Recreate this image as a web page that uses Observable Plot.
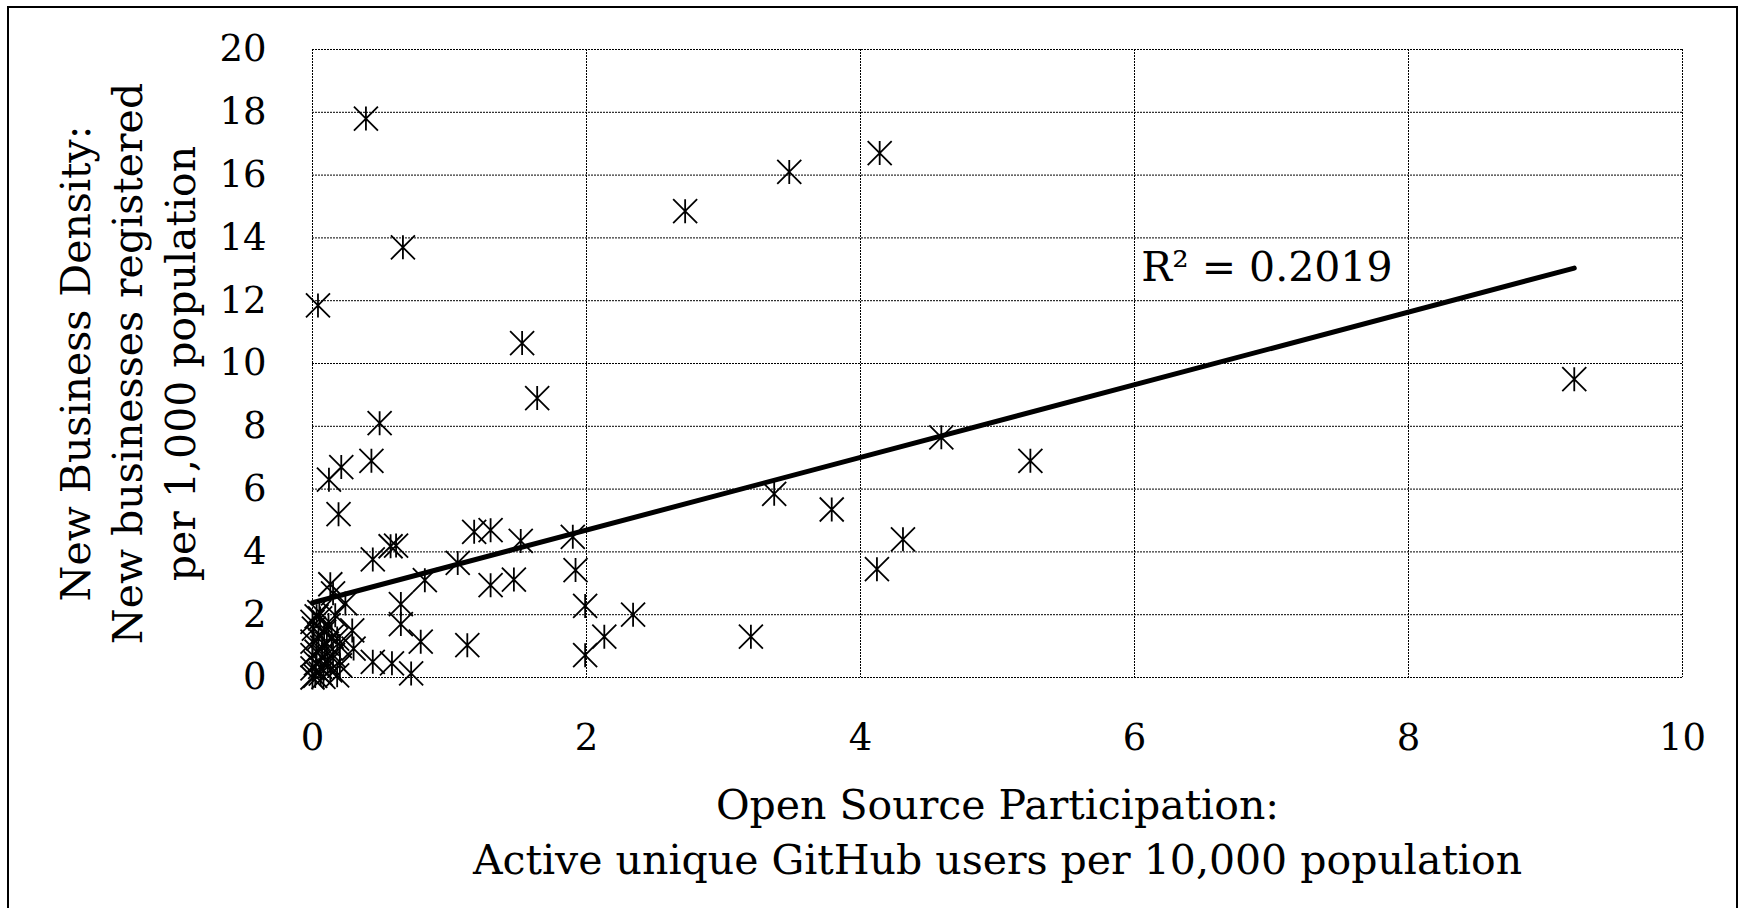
<!DOCTYPE html>
<html>
<head>
<meta charset="utf-8">
<script src="https://cdn.jsdelivr.net/npm/d3@7"></script>
<script src="https://cdn.jsdelivr.net/npm/@observablehq/plot@0.6"></script>
<style>
  html, body { margin: 0; padding: 0; background: #fff; overflow: hidden; }
  #chart { position: absolute; left: 0; top: 0; }
  #frame { position: absolute; left: 7px; top: 6px; width: 1727px; height: 920px; border: 2px solid #000; pointer-events: none; }
</style>
</head>
<body>
<div id="chart"></div>
<div id="frame"></div>
<script>
// Open Source Participation: active unique GitHub users per 10,000 population
const gitHubUsers = [
  0.39, 0.04, 0.66, 2.72, 3.48, 4.14, 1.53, 1.64, 9.21, 0.49,
  0.43, 0.12, 0.21, 0.19, 4.59, 5.24, 3.37, 3.79, 4.31, 4.12,
  3.20, 2.34, 2.13, 1.99, 1.99, 1.92, 1.90, 1.52, 1.47, 1.30,
  1.30, 1.18, 1.06, 1.13, 0.82, 0.79, 0.72, 0.58, 0.44, 0.57,
  0.61, 0.44, 0.645, 0.645, 0.13, 0.24, 0.15, 0.29, 0.30,
  0.00, 0.01, 0.056, 0.117, 0.00, 0.044, 0.105, 0.18, 0.00, 0.03,
  0.09, 0.15, 0.20, 0.00, 0.056, 0.13, 0.00, 0.02, 0.08, 0.18,
  0.166, 0.05, 0.085, 0.025, 0.11, 0.07, 0.14, 0.03, 0.20, 0.06
];
// New Business Density: new businesses registered per 1,000 population
const newBusinessDensity = [
  17.8, 11.85, 13.7, 14.85, 16.1, 16.7, 10.65, 8.9, 9.5, 8.1,
  6.9, 6.3, 6.7, 5.2, 7.65, 6.9, 5.85, 5.35, 4.4, 3.45,
  1.3, 2.0, 1.3, 2.28, 0.71, 3.42, 4.48, 4.35, 3.12, 2.94,
  4.69, 4.64, 3.65, 1.03, 3.1, 1.14, 0.13, 0.45, 0.5, 4.18,
  4.2, 3.76, 2.34, 1.7, 2.97, 2.36, 2.68, 1.5, 0.92,
  1.77, 1.56, 1.88, 1.67, 1.14, 1.24, 1.08, 1.24, 0.71, 0.82,
  0.66, 0.71, 0.39, 0.29, 0.34, 0.23, 0.00, 0.05, 0.02, 0.07,
  1.98, 2.08, 1.45, 0.45, 0.45, 0.95, 1.30, 1.95, 1.00, 0.12
];
const xTicks = [0, 2, 4, 6, 8, 10];
const yTicks = [0, 2, 4, 6, 8, 10, 12, 14, 16, 18, 20];
const xTitle = "Open Source Participation:\nActive unique GitHub users per 10,000 population";
const yTitle = "New Business Density:\nNew businesses registered\nper 1,000 population";
const rSquaredLabel = "R² = 0.2019";
const rSquaredPosition = [6.05, 13.05];

const points = gitHubUsers.map((x, i) => ({x, y: newBusinessDensity[i]}));

// Excel-style "star" marker: an X crossed by a vertical bar
const starSymbol = {
  draw(ctx, size) {
    const r = Math.sqrt(size / Math.PI);
    ctx.moveTo(-r, -r); ctx.lineTo(r, r);
    ctx.moveTo(-r, r); ctx.lineTo(r, -r);
    ctx.moveTo(0, -r); ctx.lineTo(0, r);
  }
};

const FONT = "DejaVu Serif";

const chart = Plot.plot({
  width: 1741,
  height: 908,
  marginLeft: 312,
  marginRight: 59,
  marginTop: 49,
  marginBottom: 231,
  style: {fontFamily: FONT, fontSize: "37px", color: "black", background: "white"},
  x: {domain: [0, 10], ticks: xTicks},
  y: {domain: [0, 20], ticks: yTicks},
  marks: [
    Plot.ruleX(xTicks, {stroke: "black", strokeWidth: 1, strokeDasharray: "2,1"}),
    Plot.ruleY(yTicks, {stroke: "black", strokeWidth: 1, strokeDasharray: "2,1"}),
    Plot.axisX({ticks: xTicks, tickSize: 0, tickPadding: 46, label: null, fill: "black"}),
    Plot.axisY({ticks: yTicks, tickSize: 0, tickPadding: 46, label: null, fill: "black"}),
    Plot.dot(points, {x: "x", y: "y", symbol: starSymbol, r: 12, fill: "none", stroke: "black", strokeWidth: 1.8}),
    Plot.linearRegressionY(points, {x: "x", y: "y", stroke: "black", strokeWidth: 5, ci: 0}),
    Plot.text([rSquaredLabel], {x: () => rSquaredPosition[0], y: () => rSquaredPosition[1], text: d => d, textAnchor: "start", lineAnchor: "middle", fontSize: 41, fontFamily: FONT, fill: "black"}),
    Plot.text([xTitle], {frameAnchor: "bottom", text: d => d, textAnchor: "middle", lineAnchor: "middle", lineHeight: 1.34, dy: 151, fontSize: 41, fontFamily: FONT, fill: "black"}),
    Plot.text([yTitle], {frameAnchor: "left", text: d => d, rotate: -90, textAnchor: "middle", lineAnchor: "middle", lineHeight: 1.29, dx: -187, fontSize: 41, fontFamily: FONT, fill: "black"})
  ]
});
document.getElementById("chart").appendChild(chart);
</script>
</body>
</html>
